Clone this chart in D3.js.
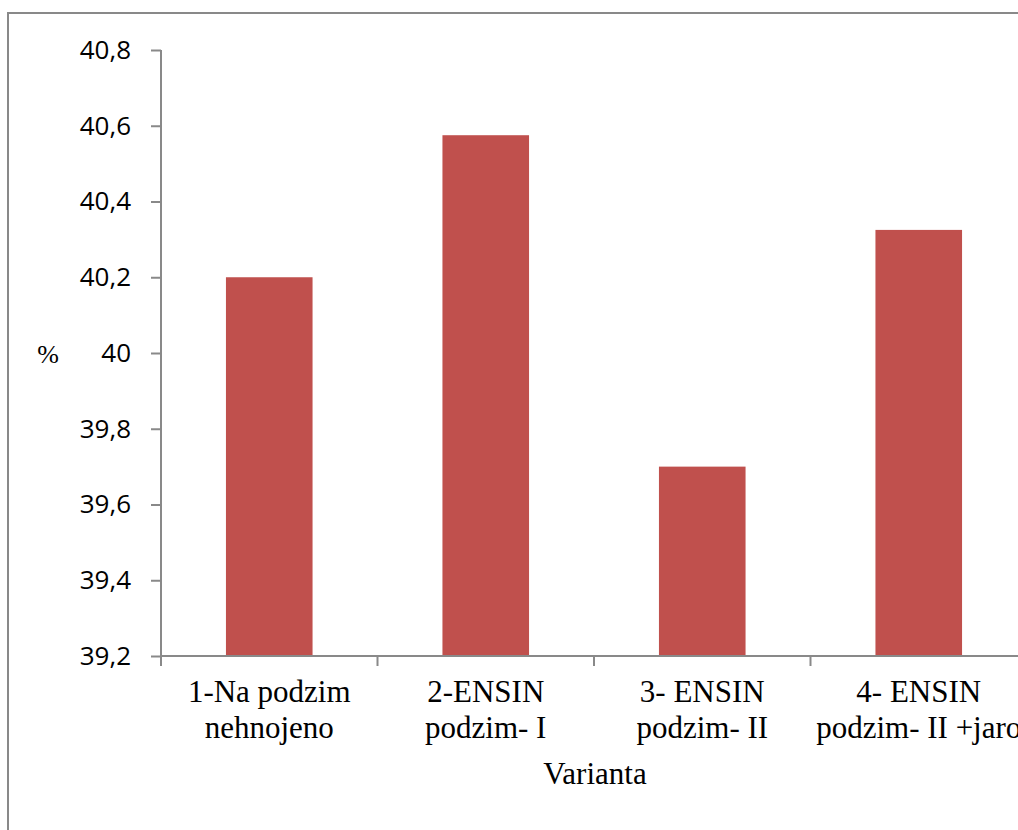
<!DOCTYPE html>
<html>
<head>
<meta charset="utf-8">
<script src="https://cdn.jsdelivr.net/npm/d3@7"></script>
<style>
  body { margin: 0; background: #fff; overflow: hidden; }
  svg { display: block; }
</style>
</head>
<body>
<div id="chart"></div>
<script>
// Data
const categories = [
  ["1-Na podzim", "nehnojeno"],
  ["2-ENSIN", "podzim- I"],
  ["3- ENSIN", "podzim- II"],
  ["4- ENSIN", "podzim- II +jaro"]
];
const values = [40.2, 40.575, 39.7, 40.325];
const yTicks = [39.2, 39.4, 39.6, 39.8, 40, 40.2, 40.4, 40.6, 40.8];
const yLabel = "%";
const xLabel = "Varianta";

const width = 1018, height = 830;
const serif = '"Liberation Serif", "Times New Roman", serif';

const svg = d3.select('#chart').append('svg')
  .attr('width', width).attr('height', height);

// chart frame
svg.append('rect')
  .attr('x', 8).attr('y', 13)
  .attr('width', 1040).attr('height', 900)
  .attr('fill', 'none').attr('stroke', '#898989').attr('stroke-width', 2);

const x = d3.scaleBand().domain(d3.range(categories.length)).range([161, 1027]).paddingInner(0.6).paddingOuter(0.3);
const y = d3.scaleLinear().domain([39.2, 40.8]).range([656, 50]);

// bars
svg.selectAll('rect.bar')
  .data(values)
  .enter()
  .append('rect')
  .attr('class', 'bar')
  .attr('x', (_, i) => x(i))
  .attr('y', d => y(d))
  .attr('width', x.bandwidth())
  .attr('height', d => y(39.2) - y(d))
  .attr('fill', '#C0504D');

// y axis
const yAxis = svg.append('g')
  .attr('transform', 'translate(161,0)')
  .call(d3.axisLeft(y).tickValues(yTicks).tickSize(10).tickPadding(20)
    .tickFormat(d => d3.format('.1f')(d).replace('.', ',').replace(/,0$/, '')));
yAxis.selectAll('path, line').attr('stroke', '#898989').attr('stroke-width', 2);
yAxis.select('path').attr('d', 'M0,' + y(40.8) + 'V' + y(39.2));
yAxis.selectAll('text')
  .attr('fill', '#000')
  .style('font-family', '"Open Sans", sans-serif')
  .style('font-size', '26px');

// x axis
const step = x.step();
const xAxis = svg.append('g').attr('transform', 'translate(0,' + y(39.2) + ')');
xAxis.append('line')
  .attr('x1', 161).attr('x2', 1027)
  .attr('stroke', '#898989').attr('stroke-width', 2);
xAxis.selectAll('line.tick')
  .data(d3.range(categories.length + 1))
  .enter()
  .append('line')
  .attr('class', 'tick')
  .attr('x1', i => 161 + i * step)
  .attr('x2', i => 161 + i * step)
  .attr('y1', 0).attr('y2', 10)
  .attr('stroke', '#898989').attr('stroke-width', 2);

const labels = xAxis.selectAll('text.cat')
  .data(categories)
  .enter()
  .append('text')
  .attr('class', 'cat')
  .attr('text-anchor', 'middle')
  .style('font-family', serif)
  .style('font-size', '31px')
  .attr('fill', '#000');
labels.each(function (d, i) {
  const t = d3.select(this);
  d.forEach((line, j) => {
    t.append('tspan')
      .attr('x', x(i) + x.bandwidth() / 2)
      .attr('y', 46 + j * 36)
      .text(line);
  });
});

svg.append('text')
  .attr('x', 595).attr('y', 784)
  .attr('text-anchor', 'middle')
  .style('font-family', serif)
  .style('font-size', '31px')
  .text(xLabel);

svg.append('text')
  .attr('x', 48).attr('y', 363)
  .attr('text-anchor', 'middle')
  .style('font-family', serif)
  .style('font-size', '26px')
  .text(yLabel);
</script>
</body>
</html>
